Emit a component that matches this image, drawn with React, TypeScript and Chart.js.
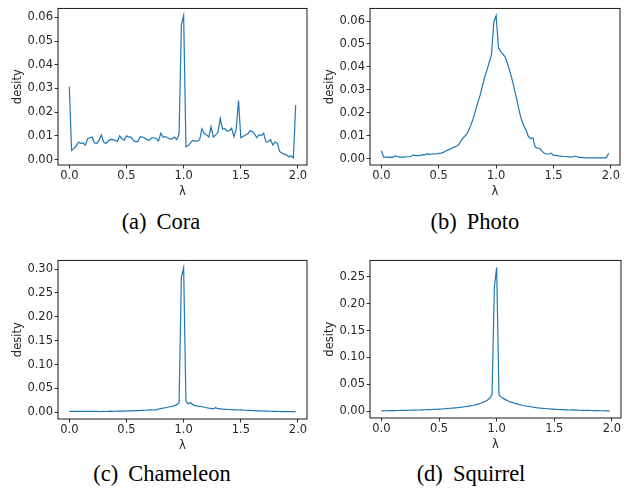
import React, { useEffect, useRef } from "react";
import { Chart, registerables } from "chart.js";

Chart.register(...registerables);

// λ bin positions (categories)
const LAMBDA: number[] = Array.from({ length: 100 }, (_, i) => +(i * 0.02).toFixed(2));

const CORA: number[] = [
  0.0307, 0.0038, 0.0047, 0.0057, 0.0074, 0.0068, 0.0070, 0.0061, 0.0088, 0.0092,
  0.0095, 0.0070, 0.0068, 0.0081, 0.0104, 0.0074, 0.0068, 0.0078, 0.0085, 0.0084,
  0.0081, 0.0076, 0.0100, 0.0089, 0.0081, 0.0100, 0.0095, 0.0095, 0.0081, 0.0076,
  0.0076, 0.0097, 0.0095, 0.0091, 0.0084, 0.0081, 0.0092, 0.0092, 0.0089, 0.0078,
  0.0111, 0.0095, 0.0097, 0.0092, 0.0086, 0.0088, 0.0095, 0.0084, 0.0108, 0.0568,
  0.0608, 0.0054, 0.0059, 0.0070, 0.0081, 0.0078, 0.0078, 0.0084, 0.0130, 0.0111,
  0.0104, 0.0095, 0.0138, 0.0095, 0.0104, 0.0115, 0.0173, 0.0128, 0.0131, 0.0119,
  0.0122, 0.0132, 0.0097, 0.0128, 0.0249, 0.0092, 0.0097, 0.0104, 0.0108, 0.0122,
  0.0118, 0.0108, 0.0092, 0.0105, 0.0101, 0.0111, 0.0074, 0.0074, 0.0084, 0.0061,
  0.0074, 0.0068, 0.0034, 0.0027, 0.0023, 0.0020, 0.0011, 0.0016, 0.0007, 0.0230,
];

const PHOTO: number[] = [
  0.0035, 0.0007, 0.0007, 0.0006, 0.0007, 0.0006, 0.0013, 0.0010, 0.0007, 0.0007,
  0.0007, 0.0009, 0.0009, 0.0011, 0.0017, 0.0014, 0.0014, 0.0015, 0.0018, 0.0017,
  0.0022, 0.0019, 0.0021, 0.0022, 0.0021, 0.0024, 0.0025, 0.0028, 0.0034, 0.0038,
  0.0042, 0.0048, 0.0052, 0.0056, 0.0066, 0.0084, 0.0095, 0.0105, 0.0122, 0.0147,
  0.0175, 0.0210, 0.0245, 0.0276, 0.0316, 0.0355, 0.0386, 0.0421, 0.0456, 0.0596,
  0.0624, 0.0484, 0.0467, 0.0456, 0.0442, 0.0414, 0.0379, 0.0344, 0.0301, 0.0259,
  0.0210, 0.0172, 0.0144, 0.0126, 0.0098, 0.0088, 0.0091, 0.0052, 0.0046, 0.0046,
  0.0032, 0.0024, 0.0021, 0.0021, 0.0024, 0.0015, 0.0015, 0.0013, 0.0012, 0.0010,
  0.0010, 0.0009, 0.0008, 0.0007, 0.0011, 0.0010, 0.0006, 0.0006, 0.0005, 0.0004,
  0.0004, 0.0004, 0.0004, 0.0004, 0.0004, 0.0004, 0.0004, 0.0004, 0.0004, 0.0024,
];

const CHAMELEON: number[] = [
  0.0020, 0.0021, 0.0020, 0.0019, 0.0020, 0.0021, 0.0020, 0.0018, 0.0019, 0.0020,
  0.0018, 0.0017, 0.0019, 0.0016, 0.0015, 0.0017, 0.0016, 0.0018, 0.0022, 0.0020,
  0.0021, 0.0023, 0.0025, 0.0027, 0.0026, 0.0029, 0.0031, 0.0030, 0.0033, 0.0035,
  0.0036, 0.0040, 0.0038, 0.0042, 0.0045, 0.0050, 0.0052, 0.0048, 0.0055, 0.0065,
  0.0075, 0.0085, 0.0095, 0.0105, 0.0115, 0.0125, 0.0140, 0.0160, 0.0200, 0.2820,
  0.3030, 0.0230, 0.0180, 0.0200, 0.0160, 0.0140, 0.0130, 0.0125, 0.0115, 0.0105,
  0.0095, 0.0085, 0.0080, 0.0072, 0.0095, 0.0075, 0.0070, 0.0066, 0.0062, 0.0060,
  0.0058, 0.0055, 0.0050, 0.0052, 0.0048, 0.0050, 0.0045, 0.0042, 0.0040, 0.0038,
  0.0035, 0.0033, 0.0030, 0.0032, 0.0028, 0.0026, 0.0024, 0.0023, 0.0021, 0.0020,
  0.0018, 0.0019, 0.0016, 0.0015, 0.0016, 0.0014, 0.0013, 0.0014, 0.0012, 0.0010,
];

const SQUIRREL: number[] = [
  0.0008, 0.0009, 0.0010, 0.0011, 0.0012, 0.0013, 0.0013, 0.0014, 0.0015, 0.0016,
  0.0017, 0.0018, 0.0019, 0.0020, 0.0021, 0.0022, 0.0024, 0.0025, 0.0027, 0.0028,
  0.0030, 0.0032, 0.0033, 0.0035, 0.0037, 0.0040, 0.0042, 0.0045, 0.0048, 0.0052,
  0.0056, 0.0060, 0.0064, 0.0068, 0.0073, 0.0078, 0.0084, 0.0090, 0.0096, 0.0104,
  0.0112, 0.0122, 0.0134, 0.0148, 0.0165, 0.0185, 0.0210, 0.0240, 0.0310, 0.2300,
  0.2670, 0.0310, 0.0265, 0.0235, 0.0212, 0.0192, 0.0175, 0.0160, 0.0146, 0.0134,
  0.0122, 0.0112, 0.0103, 0.0095, 0.0088, 0.0081, 0.0075, 0.0069, 0.0064, 0.0059,
  0.0055, 0.0051, 0.0047, 0.0044, 0.0041, 0.0038, 0.0035, 0.0033, 0.0031, 0.0029,
  0.0027, 0.0025, 0.0024, 0.0030, 0.0021, 0.0020, 0.0019, 0.0018, 0.0017, 0.0016,
  0.0015, 0.0014, 0.0013, 0.0012, 0.0011, 0.0010, 0.0010, 0.0009, 0.0009, 0.0008,
];

const X_TICKS: number[] = [0, 0.5, 1.0, 1.5, 2.0];
const Y_TICKS_SMALL: number[] = [0, 0.01, 0.02, 0.03, 0.04, 0.05, 0.06];
const Y_TICKS_LARGE_C: number[] = [0, 0.05, 0.1, 0.15, 0.2, 0.25, 0.3];
const Y_TICKS_LARGE_D: number[] = [0, 0.05, 0.1, 0.15, 0.2, 0.25];

const LINE_COLOR = "#1f77b4";
const TEXT_COLOR = "#262626";
const TICK_FONT = { family: "'DejaVu Sans', sans-serif", size: 11.5 };

const Y_AXIS_W = 58;
const X_AXIS_H = 35;
const PAD_TOP = 3;
const PAD_RIGHT = 3;

function span(arr: number[]): [number, number] {
  const lo = Math.min(...arr);
  const hi = Math.max(...arr);
  const m = (hi - lo) * 0.05;
  return [lo - m, hi + m];
}

const framePlugin = {
  id: "frame",
  afterDraw(chart: any) {
    const { ctx, chartArea } = chart;
    ctx.save();
    ctx.strokeStyle = "#000";
    ctx.lineWidth = 0.9;
    ctx.strokeRect(chartArea.left, chartArea.top, chartArea.right - chartArea.left, chartArea.bottom - chartArea.top);
    ctx.restore();
  },
};

type PanelProps = {
  values: number[];
  yTicks: number[];
  left: number;
  top: number;
  right: number;
  bottom: number;
};

function Panel({ values, yTicks, left, top, right, bottom }: PanelProps) {
  const ref = useRef<HTMLCanvasElement | null>(null);
  const cLeft = left - Y_AXIS_W;
  const cTop = top - PAD_TOP;
  const cW = Math.round(right + PAD_RIGHT - cLeft);
  const cH = Math.round(bottom + X_AXIS_H - cTop);

  useEffect(() => {
    if (!ref.current) return;
    const [xmin, xmax] = span(LAMBDA);
    const [ymin, ymax] = span(values);
    const chart = new Chart(ref.current, {
      type: "line",
      data: {
        datasets: [
          {
            data: LAMBDA.map((x, i) => ({ x, y: values[i] })),
            borderColor: LINE_COLOR,
            borderWidth: 1.2,
            pointRadius: 0,
            tension: 0,
            fill: false,
          },
        ],
      },
      options: {
        responsive: false,
        maintainAspectRatio: false,
        animation: false,
        layout: { padding: { left: 0, top: PAD_TOP, right: PAD_RIGHT, bottom: 0 } },
        plugins: { legend: { display: false }, tooltip: { enabled: false } },
        scales: {
          x: {
            type: "linear",
            min: xmin,
            max: xmax,
            afterBuildTicks: (s: any) => {
              s.ticks = X_TICKS.map((v) => ({ value: v }));
            },
            afterFit: (s: any) => {
              s.height = X_AXIS_H;
            },
            grid: { drawOnChartArea: false, drawTicks: true, tickLength: 3.5, color: "#000", lineWidth: 0.8 },
            border: { display: false },
            ticks: {
              color: TEXT_COLOR,
              font: TICK_FONT,
              padding: 1,
              maxRotation: 0,
              autoSkip: false,
              callback: (v: any) => Number(v).toFixed(1),
            },
            title: { display: true, text: "λ", color: TEXT_COLOR, font: TICK_FONT, padding: { top: 0, bottom: 1 } },
          },
          y: {
            type: "linear",
            min: ymin,
            max: ymax,
            afterBuildTicks: (s: any) => {
              s.ticks = yTicks.map((v) => ({ value: v }));
            },
            afterFit: (s: any) => {
              s.width = Y_AXIS_W;
            },
            grid: { drawOnChartArea: false, drawTicks: true, tickLength: 3.5, color: "#000", lineWidth: 0.8 },
            border: { display: false },
            ticks: {
              color: TEXT_COLOR,
              font: TICK_FONT,
              padding: 1.5,
              autoSkip: false,
              callback: (v: any) => Number(v).toFixed(2),
            },
            title: { display: true, text: "desity", color: TEXT_COLOR, font: TICK_FONT, padding: { top: 11, bottom: 0 } },
          },
        },
      },
      plugins: [framePlugin],
    } as any);
    return () => chart.destroy();
  }, [values, yTicks]);

  return (
    <canvas
      ref={ref}
      width={cW}
      height={cH}
      style={{ position: "absolute", left: cLeft, top: cTop, width: cW, height: cH }}
    />
  );
}

function Caption({ label, name, cx, cy }: { label: string; name: string; cx: number; cy: number }) {
  return (
    <div
      style={{
        position: "absolute",
        left: cx - 150,
        top: cy - 14,
        width: 300,
        height: 28,
        lineHeight: "28px",
        textAlign: "center",
        fontFamily: "'Liberation Serif', 'Times New Roman', serif",
        fontSize: 22.5,
        color: "#000",
        whiteSpace: "pre",
      }}
    >
      {label}
      <span style={{ display: "inline-block", width: 10 }} />
      {name}
    </div>
  );
}

export default function App() {
  return (
    <div style={{ position: "absolute", left: 0, top: 0, width: 631, height: 493, background: "#fff", overflow: "hidden" }}>
      <Panel values={CORA} yTicks={Y_TICKS_SMALL} left={58} top={3} right={307} bottom={165} />
      <Panel values={PHOTO} yTicks={Y_TICKS_SMALL} left={370} top={3.3} right={620} bottom={165.7} />
      <Panel values={CHAMELEON} yTicks={Y_TICKS_LARGE_C} left={58} top={255.3} right={307} bottom={419.3} />
      <Panel values={SQUIRREL} yTicks={Y_TICKS_LARGE_D} left={370} top={255.3} right={620.7} bottom={418.3} />
      <Caption label="(a)" name="Cora" cx={161} cy={222} />
      <Caption label="(b)" name="Photo" cx={475} cy={222} />
      <Caption label="(c)" name="Chameleon" cx={162} cy={474} />
      <Caption label="(d)" name="Squirrel" cx={471} cy={474} />
    </div>
  );
}
